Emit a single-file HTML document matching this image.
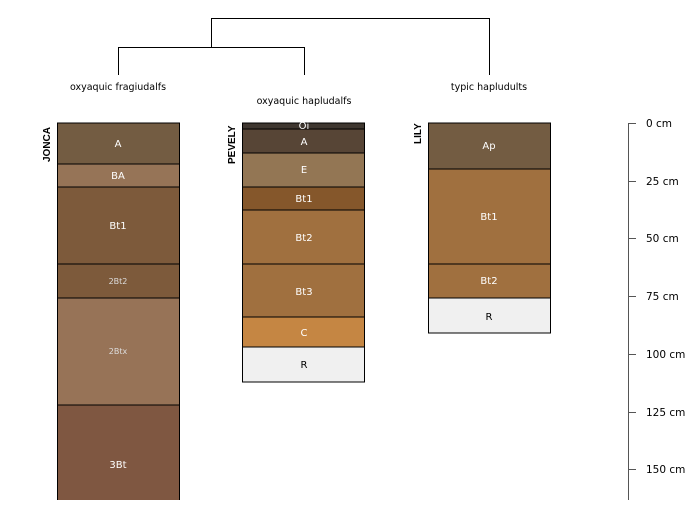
<!DOCTYPE html>
<html><head><style>body{margin:0;background:#fff}</style></head><body>
<svg width="700" height="500" xmlns="http://www.w3.org/2000/svg" font-family="DejaVu Sans, Liberation Sans, sans-serif" font-size="9.5">
<g stroke="#000" fill="none" stroke-width="1">
<path d="M211.5 47V18.5H489.5V75"/><path d="M118.5 75V47.5H304.5V75"/>
</g>
<g text-anchor="middle" fill="#000">
<text x="118" y="90">oxyaquic fragiudalfs</text>
<text x="304" y="104">oxyaquic hapludalfs</text>
<text x="489" y="90">typic hapludults</text>
</g>
<g font-weight="bold" fill="#000" font-family="Liberation Sans, sans-serif" font-size="10">
<text transform="translate(50,162) rotate(-90)">JONCA</text>
<text transform="translate(235,164) rotate(-90)">PEVELY</text>
<text transform="translate(421,144) rotate(-90)">LILY</text>
</g>
<g stroke="#000" stroke-width="1">
<rect x="57.5" y="123" width="122" height="41" fill="#735C42"/>
<rect x="57.5" y="164" width="122" height="23" fill="#967457"/>
<rect x="57.5" y="187" width="122" height="77" fill="#7D5A3B"/>
<rect x="57.5" y="264" width="122" height="34" fill="#7D5A3B"/>
<rect x="57.5" y="298" width="122" height="107" fill="#977357"/>
<rect x="57.5" y="405" width="122" height="100" fill="#7F5741"/>

<rect x="242.5" y="123" width="122" height="6" fill="#3F3730"/>
<rect x="242.5" y="129" width="122" height="24" fill="#574536"/>
<rect x="242.5" y="153" width="122" height="34" fill="#937654"/>
<rect x="242.5" y="187" width="122" height="23" fill="#85572B"/>
<rect x="242.5" y="210" width="122" height="54" fill="#A0703F"/>
<rect x="242.5" y="264" width="122" height="53" fill="#A0703F"/>
<rect x="242.5" y="317" width="122" height="30" fill="#C58643"/>
<rect x="242.5" y="347" width="122" height="35" fill="#F0F0F0"/>

<rect x="428.5" y="123" width="122" height="46" fill="#735C42"/>
<rect x="428.5" y="169" width="122" height="95" fill="#A0703F"/>
<rect x="428.5" y="264" width="122" height="34" fill="#A0703F"/>
<rect x="428.5" y="298" width="122" height="35" fill="#F0F0F0"/>
</g>
<g text-anchor="middle" fill="#fff" font-size="10">
<text x="118" y="147">A</text><text x="118" y="179">BA</text><text x="118" y="229">Bt1</text>
<text x="118" y="284" font-size="8" fill="#ddd">2Bt2</text><text x="118" y="354" font-size="8" fill="#ddd">2Btx</text><text x="118" y="468">3Bt</text>
<text x="304" y="129">Oi</text><text x="304" y="145">A</text><text x="304" y="173">E</text><text x="304" y="202">Bt1</text>
<text x="304" y="241">Bt2</text><text x="304" y="295">Bt3</text><text x="304" y="336">C</text><text x="304" y="368" fill="#000">R</text>
<text x="489" y="149">Ap</text><text x="489" y="220">Bt1</text><text x="489" y="284">Bt2</text><text x="489" y="320" fill="#000">R</text>
</g>
<g stroke="#555" stroke-width="1">
<line x1="628.5" y1="123" x2="628.5" y2="500"/>
<line x1="628" y1="123.5" x2="636" y2="123.5"/><line x1="628" y1="181.5" x2="636" y2="181.5"/>
<line x1="628" y1="238.5" x2="636" y2="238.5"/><line x1="628" y1="296.5" x2="636" y2="296.5"/>
<line x1="628" y1="354.5" x2="636" y2="354.5"/><line x1="628" y1="412.5" x2="636" y2="412.5"/>
<line x1="628" y1="469.5" x2="636" y2="469.5"/>
</g>
<g fill="#000" font-size="10.5">
<text x="646" y="127">0 cm</text><text x="646" y="185">25 cm</text><text x="646" y="242">50 cm</text>
<text x="646" y="300">75 cm</text><text x="646" y="358">100 cm</text><text x="646" y="416">125 cm</text><text x="646" y="473">150 cm</text>
</g>
</svg>
</body></html>
